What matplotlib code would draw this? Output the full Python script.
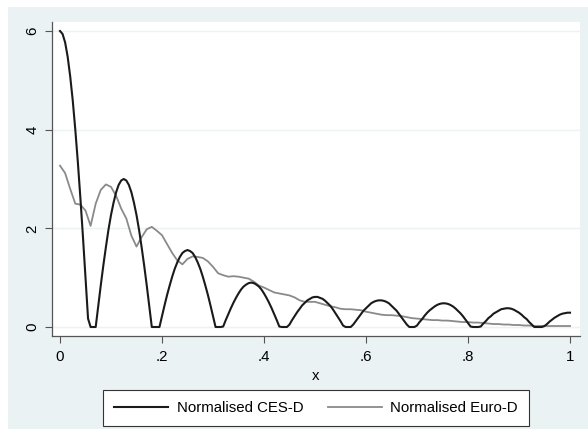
import numpy as np
import matplotlib
matplotlib.use("Agg")
from matplotlib import pyplot as plt
from matplotlib.patches import Rectangle

# CES-D read at 0.005 steps, Euro-D at 0.01 steps
x_ces = np.round(np.arange(0, 201) * 0.005, 3)
x_euro = np.round(np.arange(0, 101) * 0.01, 2)

ces_d = [6.00, 5.94, 5.77, 5.48, 5.08, 4.59, 4.00, 3.34, 2.61, 1.83,
         1.01, 0.17, 0.00, 0.00, 0.00, 0.43, 0.85, 1.25, 1.62, 1.97,
         2.27, 2.52, 2.73, 2.88, 2.97, 3.00, 2.97, 2.88, 2.73, 2.52,
         2.27, 1.97, 1.62, 1.25, 0.85, 0.43, 0.00, 0.00, 0.00, 0.00,
         0.22, 0.44, 0.65, 0.84, 1.02, 1.18, 1.31, 1.42, 1.50, 1.54,
         1.56, 1.54, 1.50, 1.42, 1.31, 1.18, 1.02, 0.84, 0.65, 0.44,
         0.22, 0.00, 0.00, 0.00, 0.01, 0.14, 0.26, 0.38, 0.49, 0.59,
         0.68, 0.76, 0.82, 0.86, 0.89, 0.90, 0.89, 0.86, 0.82, 0.76,
         0.68, 0.59, 0.49, 0.38, 0.26, 0.14, 0.01, 0.00, 0.00, 0.00,
         0.05, 0.14, 0.22, 0.30, 0.37, 0.44, 0.49, 0.54, 0.57, 0.60,
         0.61, 0.61, 0.59, 0.57, 0.53, 0.48, 0.43, 0.36, 0.28, 0.20,
         0.12, 0.03, 0.00, 0.00, 0.00, 0.05, 0.12, 0.19, 0.26, 0.33,
         0.38, 0.43, 0.48, 0.51, 0.53, 0.54, 0.54, 0.53, 0.51, 0.48,
         0.43, 0.38, 0.33, 0.26, 0.19, 0.12, 0.05, 0.00, 0.00, 0.00,
         0.03, 0.10, 0.16, 0.23, 0.29, 0.34, 0.38, 0.42, 0.45, 0.47,
         0.48, 0.48, 0.47, 0.45, 0.42, 0.38, 0.33, 0.28, 0.22, 0.15,
         0.08, 0.01, 0.00, 0.00, 0.00, 0.01, 0.07, 0.12, 0.18, 0.22,
         0.27, 0.30, 0.33, 0.36, 0.37, 0.38, 0.38, 0.37, 0.35, 0.32,
         0.29, 0.25, 0.20, 0.16, 0.10, 0.05, 0.00, 0.00, 0.00, 0.00,
         0.02, 0.06, 0.11, 0.15, 0.19, 0.22, 0.25, 0.27, 0.28, 0.29,
         0.29]

euro_d = [3.27, 3.12, 2.80, 2.50, 2.48, 2.36, 2.05, 2.50, 2.78, 2.89,
          2.84, 2.66, 2.40, 2.20, 1.85, 1.63, 1.82, 1.98, 2.03, 1.95,
          1.86, 1.68, 1.50, 1.35, 1.27, 1.38, 1.43, 1.42, 1.40, 1.33,
          1.22, 1.09, 1.05, 1.02, 1.03, 1.02, 1.00, 0.98, 0.92, 0.84,
          0.80, 0.75, 0.70, 0.68, 0.66, 0.64, 0.60, 0.54, 0.51, 0.51,
          0.51, 0.48, 0.45, 0.42, 0.40, 0.37, 0.36, 0.36, 0.35, 0.34,
          0.31, 0.29, 0.27, 0.25, 0.24, 0.24, 0.23, 0.22, 0.20, 0.18,
          0.17, 0.16, 0.15, 0.14, 0.14, 0.13, 0.13, 0.12, 0.11, 0.10,
          0.10, 0.09, 0.09, 0.08, 0.07, 0.06, 0.06, 0.05, 0.05, 0.04,
          0.04, 0.03, 0.03, 0.02, 0.02, 0.02, 0.02, 0.02, 0.02, 0.02,
          0.02]

xticks = [0, 0.2, 0.4, 0.6, 0.8, 1.0]
xtick_labels = ["0", ".2", ".4", ".6", ".8", "1"]
yticks = [0, 2, 4, 6]
labels = ["Normalised CES-D", "Normalised Euro-D"]

plt.rcParams['font.family'] = ['Liberation Sans', 'DejaVu Sans']
bg = "#eaf2f3"
fs = 10.8

W, H = 588, 429
fig = plt.figure(figsize=(W / 100, H / 100), dpi=100, facecolor="white")
fig.patches.append(Rectangle((8 / W, 0), (W - 8) / W, (H - 7) / H,
                             transform=fig.transFigure, facecolor=bg,
                             edgecolor="none", zorder=-10))

ax = fig.add_axes([52 / W, 1 - 336 / H, (580 - 52) / W, (336 - 22) / H])
ax.set_facecolor("white")

ax.plot(x_ces, ces_d, color="#1a1a1a", lw=1.5, label=labels[0], zorder=3)
ax.plot(x_euro, euro_d, color="#8a8a8a", lw=1.3, label=labels[1], zorder=2)

ax.set_xlim(-8 / 510, 1 + 10 / 510)
ax.set_ylim(-9 / 49.33, 6 + 9 / 49.33)
ax.set_xticks(xticks)
ax.set_xticklabels(xtick_labels)
ax.set_yticks(yticks)
ax.set_yticklabels([str(t) for t in yticks], rotation=90, va="center")
ax.grid(axis="y", color=bg, lw=1.0)
ax.set_axisbelow(True)

for s in ["top", "right"]:
    ax.spines[s].set_visible(False)
for s in ["left", "bottom"]:
    ax.spines[s].set_color("#555555")
    ax.spines[s].set_linewidth(0.9)
ax.tick_params(axis="both", colors="#555555", labelcolor="black",
               labelsize=fs, length=5, width=0.8)
ax.tick_params(axis="x", pad=5)
ax.tick_params(axis="y", pad=4)
ax.set_xlabel("x", fontsize=fs, labelpad=4)

leg = fig.legend(loc="center", bbox_to_anchor=(316 / W, 1 - 408 / H), ncol=2,
                 fontsize=fs, frameon=True, fancybox=False, framealpha=1,
                 edgecolor="#333333", handlelength=3.6, columnspacing=1.6,
                 borderpad=0.75, handletextpad=0.6, borderaxespad=0)
leg.get_frame().set_linewidth(0.8)

fig.savefig("out.png", dpi=100, facecolor=fig.get_facecolor())
